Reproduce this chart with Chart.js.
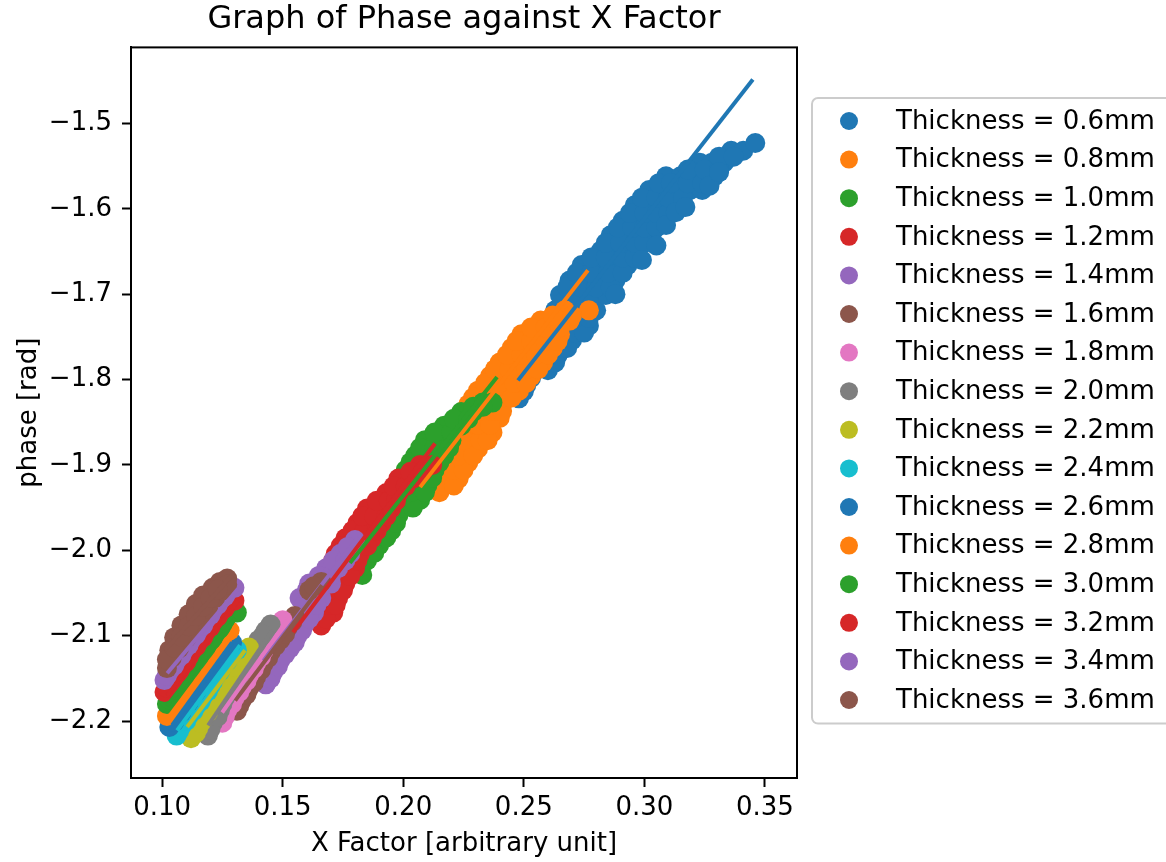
<!DOCTYPE html>
<html lang="en">
<head>
<meta charset="UTF-8">
<title>Graph of Phase against X Factor</title>
<script src="https://cdn.jsdelivr.net/npm/chart.js"></script>
<style>
  html, body { margin: 0; padding: 0; background: #fff; }
  canvas { display: block; }
</style>
</head>
<body>
<canvas id="phase-chart" width="1166" height="862"></canvas>
<script>
// plate thickness (mm), one scatter series per value
const thickness = ['0.6', '0.8', '1.0', '1.2', '1.4', '1.6', '1.8', '2.0',
                   '2.2', '2.4', '2.6', '2.8', '3.0', '3.2', '3.4', '3.6'];
// matplotlib tab10, cycles after ten series
const palette = ['#1f77b4', '#ff7f0e', '#2ca02c', '#d62728', '#9467bd',
                 '#8c564b', '#e377c2', '#7f7f7f', '#bcbd22', '#17becf'];
const xTicks = [0.10, 0.15, 0.20, 0.25, 0.30, 0.35];
const yTicks = [-2.2, -2.1, -2.0, -1.9, -1.8, -1.7, -1.6, -1.5];

// [x factor, phase]
const t06 = [[0.248,-1.822],[0.251,-1.807],[0.255,-1.789],[0.260,-1.789],[0.259,-1.772],[0.264,-1.772],
  [0.261,-1.754],[0.266,-1.754],[0.270,-1.754],[0.263,-1.737],[0.268,-1.737],[0.274,-1.737],[0.277,-1.737],
  [0.263,-1.719],[0.268,-1.719],[0.274,-1.719],[0.280,-1.719],[0.265,-1.701],[0.271,-1.701],[0.277,-1.701],
  [0.284,-1.701],[0.269,-1.684],[0.275,-1.684],[0.282,-1.684],[0.288,-1.684],[0.274,-1.666],[0.280,-1.666],
  [0.287,-1.666],[0.293,-1.666],[0.282,-1.649],[0.288,-1.649],[0.294,-1.649],[0.297,-1.649],[0.286,-1.631],
  [0.292,-1.631],[0.298,-1.631],[0.303,-1.631],[0.291,-1.614],[0.297,-1.614],[0.302,-1.614],[0.307,-1.614],
  [0.296,-1.596],[0.302,-1.596],[0.307,-1.596],[0.313,-1.596],[0.302,-1.578],[0.307,-1.578],[0.313,-1.578],
  [0.319,-1.578],[0.324,-1.578],[0.309,-1.562],[0.315,-1.562],[0.322,-1.562],[0.329,-1.562],[0.323,-1.546],
  [0.328,-1.546],[0.333,-1.546],[0.336,-1.532],[0.341,-1.532],[0.346,-1.523],
  [0.250,-1.814],[0.253,-1.798],[0.258,-1.780],[0.263,-1.780],[0.262,-1.763],[0.268,-1.763],[0.265,-1.745],
  [0.271,-1.745],[0.275,-1.745],[0.266,-1.728],[0.271,-1.728],[0.277,-1.728],[0.266,-1.710],[0.272,-1.710],
  [0.277,-1.710],[0.268,-1.692],[0.274,-1.692],[0.280,-1.692],[0.286,-1.692],[0.272,-1.675],[0.278,-1.675],
  [0.285,-1.675],[0.291,-1.675],[0.278,-1.657],[0.284,-1.657],[0.291,-1.657],[0.296,-1.657],[0.284,-1.640],
  [0.290,-1.640],[0.296,-1.640],[0.300,-1.640],[0.289,-1.622],[0.295,-1.622],[0.300,-1.622],[0.305,-1.622],
  [0.294,-1.605],[0.300,-1.605],[0.305,-1.605],[0.310,-1.605],[0.299,-1.587],[0.305,-1.587],[0.310,-1.587],
  [0.316,-1.587],[0.306,-1.570],[0.311,-1.570],[0.318,-1.570],[0.324,-1.570],[0.318,-1.554],[0.325,-1.554],
  [0.331,-1.554],[0.331,-1.539],[0.337,-1.539],
  [0.288,-1.700],[0.299,-1.660],[0.305,-1.643],[0.309,-1.619],[0.313,-1.604],[0.317,-1.598],[0.327,-1.573],
  [0.331,-1.557]];
const t08 = [[0.215,-1.932],[0.219,-1.916],[0.223,-1.916],[0.222,-1.897],[0.227,-1.897],[0.224,-1.881],
  [0.231,-1.881],[0.226,-1.862],[0.232,-1.862],[0.237,-1.862],[0.223,-1.845],[0.229,-1.845],[0.235,-1.845],
  [0.240,-1.845],[0.227,-1.829],[0.233,-1.829],[0.239,-1.829],[0.241,-1.829],[0.231,-1.813],[0.237,-1.813],
  [0.243,-1.813],[0.248,-1.813],[0.236,-1.796],[0.242,-1.796],[0.248,-1.796],[0.253,-1.796],[0.240,-1.780],
  [0.246,-1.780],[0.253,-1.780],[0.258,-1.780],[0.245,-1.763],[0.251,-1.763],[0.257,-1.763],[0.262,-1.763],
  [0.249,-1.747],[0.255,-1.747],[0.261,-1.747],[0.265,-1.747],[0.257,-1.731],[0.263,-1.731],[0.269,-1.731],
  [0.267,-1.719],[0.277,-1.719],
  [0.217,-1.924],[0.221,-1.924],[0.221,-1.906],[0.225,-1.906],[0.223,-1.889],[0.229,-1.889],[0.225,-1.871],
  [0.232,-1.871],[0.235,-1.871],[0.225,-1.853],[0.231,-1.853],[0.236,-1.853],[0.225,-1.837],[0.231,-1.837],
  [0.237,-1.837],[0.241,-1.837],[0.229,-1.821],[0.235,-1.821],[0.241,-1.821],[0.245,-1.821],[0.234,-1.804],
  [0.240,-1.804],[0.246,-1.804],[0.251,-1.804],[0.238,-1.788],[0.244,-1.788],[0.251,-1.788],[0.256,-1.788],
  [0.243,-1.771],[0.249,-1.771],[0.255,-1.771],[0.260,-1.771],[0.247,-1.755],[0.253,-1.755],[0.259,-1.755],
  [0.264,-1.755],[0.253,-1.739],[0.259,-1.739],[0.265,-1.739],[0.262,-1.725],[0.270,-1.725]];
const t10 = [[0.183,-2.029],[0.180,-2.012],[0.185,-2.012],[0.184,-1.994],[0.190,-1.994],[0.187,-1.977],
  [0.195,-1.977],[0.190,-1.959],[0.198,-1.959],[0.194,-1.941],[0.201,-1.941],[0.207,-1.941],[0.197,-1.924],
  [0.204,-1.924],[0.210,-1.924],[0.201,-1.906],[0.207,-1.906],[0.213,-1.906],[0.205,-1.889],[0.211,-1.889],
  [0.217,-1.889],[0.209,-1.871],[0.215,-1.871],[0.220,-1.871],[0.217,-1.854],[0.224,-1.854],[0.224,-1.838],
  [0.229,-1.838],[0.233,-1.827],[0.237,-1.827],
  [0.182,-2.020],[0.183,-2.003],[0.188,-2.003],[0.186,-1.985],[0.193,-1.985],[0.189,-1.968],[0.197,-1.968],
  [0.192,-1.950],[0.200,-1.950],[0.204,-1.950],[0.196,-1.932],[0.203,-1.932],[0.209,-1.932],[0.199,-1.915],
  [0.206,-1.915],[0.212,-1.915],[0.203,-1.897],[0.209,-1.897],[0.215,-1.897],[0.207,-1.880],[0.213,-1.880],
  [0.219,-1.880],[0.213,-1.862],[0.220,-1.862],[0.221,-1.846],[0.227,-1.846],[0.229,-1.832],[0.233,-1.832]];
const t12 = [[0.166,-2.088],[0.166,-2.073],[0.171,-2.073],[0.168,-2.056],[0.173,-2.056],[0.170,-2.039],
  [0.176,-2.039],[0.169,-2.021],[0.174,-2.021],[0.180,-2.021],[0.172,-2.004],[0.177,-2.004],[0.182,-2.004],
  [0.176,-1.986],[0.181,-1.986],[0.187,-1.986],[0.181,-1.968],[0.186,-1.968],[0.191,-1.968],[0.185,-1.951],
  [0.190,-1.951],[0.195,-1.951],[0.193,-1.933],[0.198,-1.933],[0.198,-1.916],[0.204,-1.916],[0.207,-1.900],
  [0.212,-1.900],
  [0.168,-2.080],[0.169,-2.064],[0.172,-2.064],[0.169,-2.047],[0.175,-2.047],[0.172,-2.030],[0.178,-2.030],
  [0.171,-2.012],[0.176,-2.012],[0.181,-2.012],[0.174,-1.995],[0.179,-1.995],[0.185,-1.995],[0.179,-1.977],
  [0.184,-1.977],[0.189,-1.977],[0.183,-1.960],[0.188,-1.960],[0.193,-1.960],[0.189,-1.942],[0.194,-1.942],
  [0.197,-1.942],[0.196,-1.925],[0.201,-1.925],[0.203,-1.908],[0.208,-1.908]];
const t14 = [[0.143,-2.157],[0.146,-2.143],[0.149,-2.129],[0.153,-2.115],[0.156,-2.101],[0.159,-2.087],
  [0.160,-2.073],[0.163,-2.073],[0.157,-2.056],[0.162,-2.056],[0.166,-2.056],[0.161,-2.039],[0.166,-2.039],
  [0.170,-2.039],[0.168,-2.021],[0.173,-2.021],[0.174,-2.004],[0.178,-2.004],[0.180,-1.988],
  [0.145,-2.150],[0.148,-2.136],[0.151,-2.122],[0.155,-2.108],[0.158,-2.094],[0.161,-2.080],[0.159,-2.064],
  [0.164,-2.064],[0.160,-2.047],[0.165,-2.047],[0.165,-2.030],[0.170,-2.030],[0.171,-2.012],[0.176,-2.012],
  [0.177,-1.996]];
const t16 = [[0.131,-2.188],[0.133,-2.176],[0.136,-2.162],[0.139,-2.148],[0.142,-2.133],[0.145,-2.119],
  [0.149,-2.105],[0.152,-2.091],[0.155,-2.077],[0.161,-2.047],[0.166,-2.037],
  [0.132,-2.182],[0.135,-2.169],[0.138,-2.155],[0.141,-2.140],[0.144,-2.126],[0.147,-2.112],[0.151,-2.098],
  [0.154,-2.084],[0.163,-2.042]];
const t18 = [[0.125,-2.202],[0.127,-2.187],[0.130,-2.173],[0.133,-2.160],[0.136,-2.146],[0.139,-2.132],
  [0.142,-2.118],[0.144,-2.105],[0.147,-2.094],[0.150,-2.082],
  [0.126,-2.195],[0.129,-2.180],[0.132,-2.166],[0.135,-2.153],[0.138,-2.139],[0.141,-2.125],[0.143,-2.111],
  [0.146,-2.099],[0.149,-2.088]];
const t20 = [[0.119,-2.217],[0.121,-2.202],[0.124,-2.187],[0.126,-2.173],[0.129,-2.160],[0.132,-2.146],
  [0.134,-2.132],[0.137,-2.118],[0.140,-2.105],[0.143,-2.094],[0.145,-2.087],
  [0.120,-2.210],[0.123,-2.195],[0.125,-2.180],[0.128,-2.166],[0.131,-2.153],[0.133,-2.139],[0.136,-2.125],
  [0.139,-2.111],[0.142,-2.099]];
const t22 = [[0.112,-2.220],[0.115,-2.208],[0.117,-2.196],[0.120,-2.183],[0.122,-2.170],[0.125,-2.157],
  [0.128,-2.144],[0.131,-2.131],[0.134,-2.119],[0.136,-2.114],
  [0.114,-2.214],[0.116,-2.202],[0.119,-2.190],[0.121,-2.177],[0.124,-2.164],[0.127,-2.150],[0.130,-2.137],
  [0.133,-2.125]];
const t24 = [[0.106,-2.217],[0.108,-2.206],[0.111,-2.194],[0.114,-2.183],[0.117,-2.171],[0.120,-2.159],
  [0.122,-2.148],[0.125,-2.136],[0.128,-2.125],[0.131,-2.117],
  [0.107,-2.212],[0.110,-2.200],[0.113,-2.188],[0.116,-2.177],[0.119,-2.165],[0.121,-2.154],[0.124,-2.142],
  [0.127,-2.130]];
const t26 = [[0.103,-2.207],[0.106,-2.195],[0.109,-2.184],[0.112,-2.172],[0.115,-2.160],[0.117,-2.149],
  [0.120,-2.137],[0.123,-2.125],[0.126,-2.115],[0.129,-2.108],
  [0.105,-2.201],[0.108,-2.190],[0.111,-2.178],[0.114,-2.166],[0.116,-2.155],[0.119,-2.143],[0.122,-2.131],
  [0.125,-2.120]];
const t28 = [[0.102,-2.194],[0.105,-2.183],[0.107,-2.171],[0.110,-2.159],[0.113,-2.148],[0.116,-2.136],
  [0.119,-2.124],[0.122,-2.112],[0.125,-2.102],[0.128,-2.094],
  [0.104,-2.188],[0.106,-2.177],[0.109,-2.165],[0.112,-2.154],[0.115,-2.142],[0.118,-2.130],[0.121,-2.118],
  [0.124,-2.107]];
const t30 = [[0.102,-2.180],[0.104,-2.169],[0.107,-2.157],[0.110,-2.145],[0.113,-2.133],[0.116,-2.122],
  [0.119,-2.110],[0.122,-2.098],[0.125,-2.087],[0.127,-2.077],[0.131,-2.073],
  [0.103,-2.175],[0.106,-2.163],[0.109,-2.151],[0.112,-2.139],[0.115,-2.128],[0.118,-2.116],[0.121,-2.104],
  [0.124,-2.092],[0.126,-2.082]];
const t32 = [[0.101,-2.166],[0.104,-2.155],[0.107,-2.143],[0.110,-2.131],[0.112,-2.119],[0.115,-2.108],
  [0.118,-2.096],[0.121,-2.084],[0.124,-2.073],[0.127,-2.063],[0.130,-2.059],
  [0.102,-2.161],[0.105,-2.149],[0.108,-2.137],[0.111,-2.125],[0.114,-2.113],[0.117,-2.102],[0.120,-2.090],
  [0.123,-2.078],[0.126,-2.068]];
const t34 = [[0.101,-2.152],[0.103,-2.141],[0.106,-2.129],[0.109,-2.117],[0.112,-2.105],[0.115,-2.094],
  [0.118,-2.082],[0.121,-2.070],[0.124,-2.059],[0.127,-2.049],[0.130,-2.044],
  [0.102,-2.147],[0.105,-2.135],[0.108,-2.123],[0.111,-2.111],[0.114,-2.099],[0.117,-2.088],[0.120,-2.076],
  [0.123,-2.064],[0.126,-2.054]];
const t36 = [[0.103,-2.117],[0.105,-2.102],[0.108,-2.088],[0.111,-2.075],[0.114,-2.063],[0.117,-2.053],
  [0.121,-2.044],[0.124,-2.037],[0.127,-2.033],[0.102,-2.138],[0.104,-2.126],[0.107,-2.115],[0.110,-2.103],
  [0.113,-2.091],[0.116,-2.080],[0.119,-2.068],[0.122,-2.056],[0.125,-2.047],[0.127,-2.040],
  [0.102,-2.128],[0.105,-2.114],[0.108,-2.101],[0.111,-2.089],[0.114,-2.077],[0.117,-2.066],[0.120,-2.056],
  [0.123,-2.046]];

// straight-line fits, [start, end]
const fit06 = [[0.2476,-1.801],[0.345,-1.4485]];
const fit08 = [[0.207,-1.926],[0.2766,-1.672]];
const fit10 = [[0.1779,-2.015],[0.2389,-1.797]];
const fit12 = [[0.1543,-2.096],[0.2132,-1.875]];
const fit14 = [[0.1419,-2.129],[0.1813,-1.985]];
const fit16 = [[0.1303,-2.176],[0.1663,-2.041]];
const fit18 = [[0.1249,-2.190],[0.1518,-2.082]];
const fit20 = [[0.1191,-2.205],[0.1456,-2.094]];
const fit22 = [[0.1104,-2.207],[0.1344,-2.117]];
const fit24 = [[0.1062,-2.211],[0.1323,-2.111]];
const fit26 = [[0.1041,-2.205],[0.129,-2.108]];
const fit28 = [[0.1033,-2.193],[0.129,-2.096]];
const fit30 = [[0.1021,-2.182],[0.1303,-2.080]];
const fit32 = [[0.1021,-2.170],[0.1315,-2.059]];
const fit34 = [[0.1021,-2.144],[0.1315,-2.045]];
const fit36 = [[0.1012,-2.117],[0.129,-2.029]];

const points = [t06, t08, t10, t12, t14, t16, t18, t20, t22, t24, t26, t28, t30, t32, t34, t36];
const fits = [fit06, fit08, fit10, fit12, fit14, fit16, fit18, fit20,
              fit22, fit24, fit26, fit28, fit30, fit32, fit34, fit36];

const toXY = pts => pts.map(([x, y]) => ({x, y}));

const datasets = [];
thickness.forEach((t, i) => {
    const color = palette[i % palette.length];
    // later series sit on top, like matplotlib
    datasets.push({
        label: 'Thickness = ' + t + 'mm',
        data: toXY(points[i]),
        backgroundColor: color,
        borderWidth: 0,
        pointRadius: 10,
        pointHoverRadius: 10,
        order: 100 - i
    });
});
thickness.forEach((t, i) => {
    // fit lines are drawn over every scatter
    datasets.push({
        label: 'fit ' + t,
        isFit: true,
        data: toXY(fits[i]),
        showLine: true,
        borderColor: palette[i % palette.length],
        borderWidth: 4,
        pointRadius: 0,
        fill: false,
        order: 50 - i
    });
});

// frame on all four sides + matplotlib-like legend box on the right
const frameAndLegend = {
    id: 'frameAndLegend',
    afterDraw(chart) {
        const { ctx, chartArea: a } = chart;
        ctx.save();
        ctx.strokeStyle = '#000';
        ctx.lineWidth = 2;
        ctx.strokeRect(a.left, a.top, a.right - a.left, a.bottom - a.top);

        const items = chart.data.datasets.filter(d => !d.isFit);
        const boxX = a.right + 15, boxY = 98, rowH = 38.6;
        ctx.strokeStyle = '#cccccc';
        ctx.beginPath();
        ctx.roundRect(boxX, boxY, 420, rowH * items.length + 8, 6);
        ctx.stroke();

        ctx.font = '26px "DejaVu Sans"';
        ctx.textBaseline = 'middle';
        items.forEach((d, i) => {
            const y = boxY + 23 + i * rowH;
            ctx.fillStyle = d.backgroundColor;
            ctx.beginPath();
            ctx.arc(boxX + 37, y, 9, 0, Math.PI * 2);
            ctx.fill();
            ctx.fillStyle = '#000';
            ctx.fillText(d.label, boxX + 84, y + 1);
        });
        ctx.restore();
    }
};

Chart.defaults.font.family = '"DejaVu Sans", sans-serif';
Chart.defaults.color = '#000';

const ctx = document.getElementById('phase-chart').getContext('2d');
new Chart(ctx, {
    type: 'scatter',
    data: { datasets },
    plugins: [frameAndLegend],
    options: {
        responsive: false,
        animation: false,
        events: [],
        layout: { padding: { left: 0, right: 369, top: 0, bottom: 0 } },
        plugins: {
            legend: { display: false },
            tooltip: { enabled: false },
            title: {
                display: true,
                text: 'Graph of Phase against X Factor',
                fullSize: false,
                font: { size: 32, weight: 'normal' },
                padding: { top: 0, bottom: 9 }
            }
        },
        scales: {
            x: {
                type: 'linear',
                min: 0.0871,
                max: 0.3633,
                afterBuildTicks: s => { s.ticks = xTicks.map(v => ({ value: v })); },
                afterFit: s => { s.height = 84; },
                ticks: {
                    font: { size: 26 },
                    padding: 6,
                    callback: v => v.toFixed(2)
                },
                grid: { drawOnChartArea: false, drawTicks: true, tickLength: 9, tickWidth: 2, tickColor: '#000' },
                border: { display: true, color: '#000', width: 2 },
                title: {
                    display: true,
                    text: 'X Factor [arbitrary unit]',
                    font: { size: 26 },
                    padding: { top: 0, bottom: 2 }
                }
            },
            y: {
                type: 'linear',
                min: -2.2667,
                max: -1.411,
                afterBuildTicks: s => { s.ticks = yTicks.map(v => ({ value: v })); },
                afterFit: s => { s.width = 131; },
                ticks: {
                    font: { size: 26 },
                    padding: 10,
                    callback: v => v.toFixed(1).replace('-', '\u2212')
                },
                grid: { drawOnChartArea: false, drawTicks: true, tickLength: 9, tickWidth: 2, tickColor: '#000' },
                border: { display: true, color: '#000', width: 2 },
                title: {
                    display: true,
                    text: 'phase [rad]',
                    font: { size: 26 },
                    padding: { top: 14, bottom: 0 }
                }
            }
        }
    }
});
</script>
</body>
</html>
